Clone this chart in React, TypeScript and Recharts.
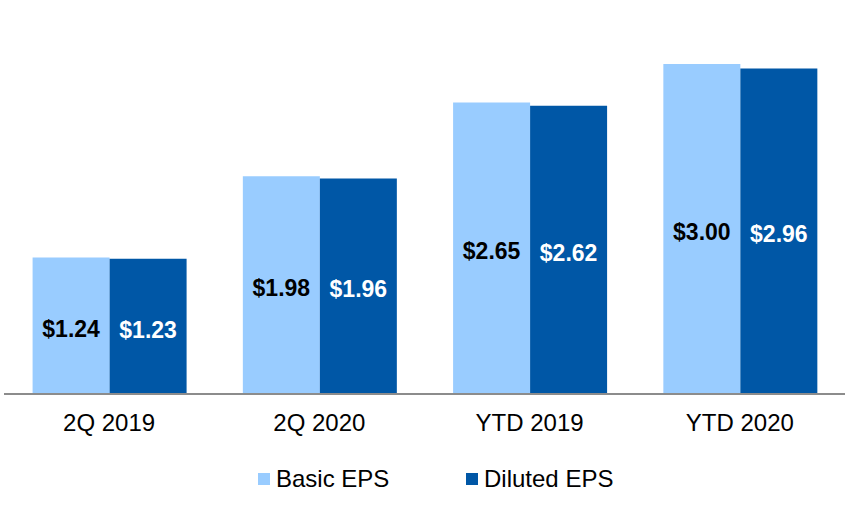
import { BarChart, Bar, XAxis, YAxis, Legend, LabelList } from "recharts";

const categories = ["2Q 2019", "2Q 2020", "YTD 2019", "YTD 2020"];
const basicEps = [1.24, 1.98, 2.65, 3.0];
const dilutedEps = [1.23, 1.96, 2.62, 2.96];

const LIGHT = "#99CCFF";
const DARK = "#0057A6";
const FONT = '"Liberation Sans", Arial, sans-serif';

const data = categories.map((name, i) => ({
  name,
  basic: basicEps[i],
  diluted: dilutedEps[i],
}));

const money = (v: any) => `$${Number(v).toFixed(2)}`;

function EpsLegend() {
  const items = [
    { label: "Basic EPS", color: LIGHT, width: 208 },
    { label: "Diluted EPS", color: DARK, width: 200 },
  ];
  return (
    <div style={{ display: "flex", height: 50, paddingLeft: 258, fontFamily: FONT, fontSize: 24, lineHeight: "23px", color: "#000" }}>
      {items.map((it) => (
        <div key={it.label} style={{ display: "flex", alignItems: "center", width: it.width, height: 23 }}>
          <span style={{ display: "inline-block", width: 12, height: 12, background: it.color, marginRight: 6 }} />
          <span>{it.label}</span>
        </div>
      ))}
    </div>
  );
}

export default function App() {
  return (
    <div style={{ position: "absolute", left: 0, top: 0, width: 852, height: 517, background: "#fff" }}>
      <BarChart
        width={852}
        height={517}
        data={data}
        margin={{ top: 9, right: 7, left: 4, bottom: 0 }}
        barCategoryGap="13.6%"
        barGap={0}
      >
        <XAxis
          dataKey="name"
          height={73}
          tickLine={false}
          tickSize={0}
          tickMargin={20}
          axisLine={{ stroke: "#8c8c8c", strokeWidth: 2 }}
          tick={{ fill: "#000", fontSize: 24, fontFamily: FONT }}
        />
        <YAxis hide domain={[0, 3.5]} />
        <Legend verticalAlign="bottom" content={() => <EpsLegend />} wrapperStyle={{ left: 0, width: 852 }} />
        <Bar dataKey="basic" name="Basic EPS" fill={LIGHT} isAnimationActive={false}>
          <LabelList dataKey="basic" position="center" formatter={money} fill="#000" fontSize={23} fontWeight="bold" fontFamily={FONT} dy={3} />
        </Bar>
        <Bar dataKey="diluted" name="Diluted EPS" fill={DARK} isAnimationActive={false}>
          <LabelList dataKey="diluted" position="center" formatter={money} fill="#fff" fontSize={23} fontWeight="bold" fontFamily={FONT} dy={3} />
        </Bar>
      </BarChart>
    </div>
  );
}
